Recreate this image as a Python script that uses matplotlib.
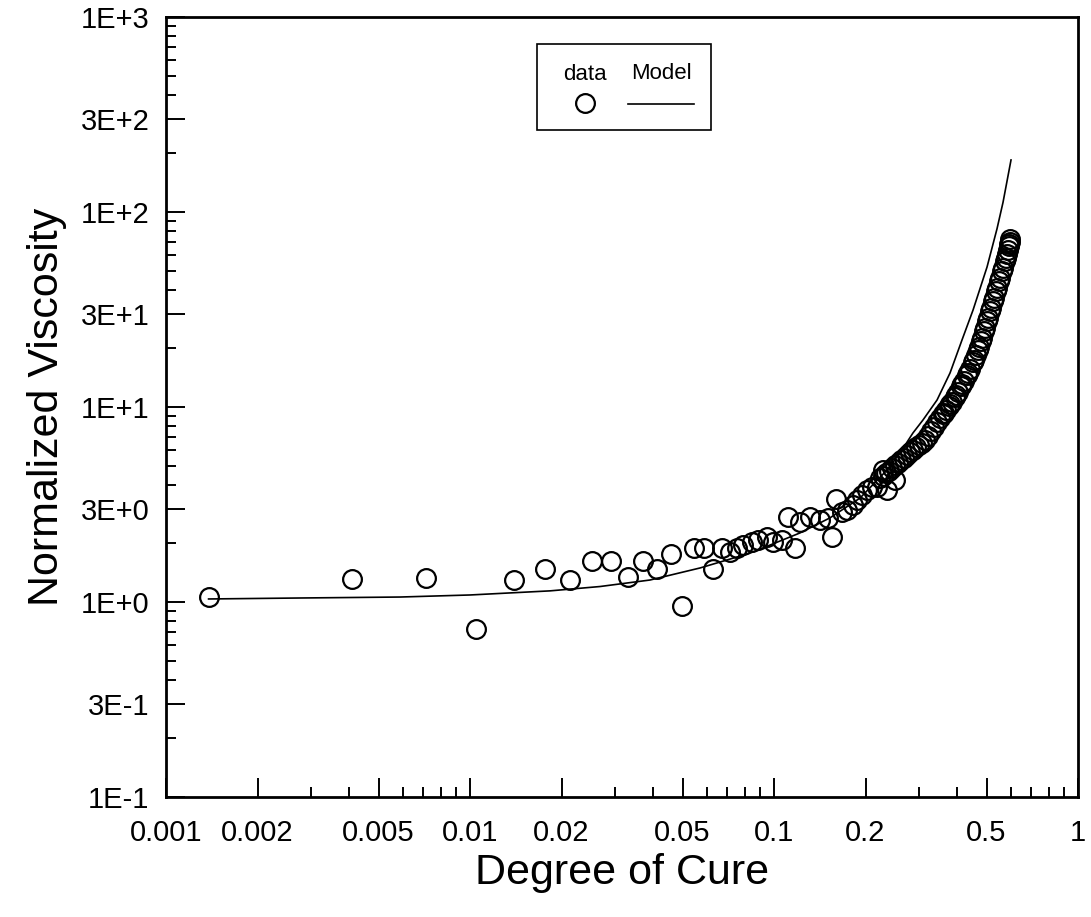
import numpy as np
import matplotlib
matplotlib.use('Agg')
import matplotlib.pyplot as plt
from matplotlib.ticker import FixedLocator, FixedFormatter, NullFormatter
from matplotlib.patches import Rectangle

plt.rcParams['font.family'] = ['Liberation Sans', 'DejaVu Sans']

# measured data (degree of cure, normalized viscosity)
cure_data = [0.00138, 0.00409, 0.00716, 0.01046, 0.01396, 0.01766, 0.0213, 0.0252,
             0.0291, 0.0331, 0.0371, 0.0412, 0.0458, 0.0498, 0.0546, 0.0589, 0.0630,
             0.0675, 0.0717, 0.0755, 0.0791, 0.0847, 0.0886, 0.0948, 0.0992, 0.1062,
             0.1112, 0.1173, 0.1218, 0.1314, 0.1417, 0.1505, 0.1552, 0.1600, 0.1674,
             0.1738, 0.1819, 0.1875, 0.1949, 0.2022, 0.2101, 0.2182, 0.2284, 0.2353,
             0.2500,
             0.2232, 0.2284, 0.2336, 0.2390, 0.2445, 0.2500, 0.2558, 0.2617, 0.2677,
             0.2738, 0.2801, 0.2865, 0.2931, 0.2999, 0.3068, 0.3139, 0.3211, 0.3285,
             0.3360, 0.3438, 0.3516, 0.3597, 0.3680, 0.3765, 0.3851, 0.3939, 0.4030,
             0.4122, 0.4217, 0.4314, 0.4413, 0.4515, 0.4619, 0.4724, 0.4833, 0.4943,
             0.5057, 0.5174, 0.5292, 0.5414, 0.5539, 0.5666, 0.5797, 0.5885, 0.5929,
             0.5974, 0.5974,
             0.3624, 0.3793, 0.3969, 0.4153, 0.4347, 0.4549, 0.4689, 0.4796, 0.4907,
             0.5020, 0.5134, 0.5253, 0.5374, 0.5497, 0.5623, 0.5752, 0.5841, 0.5929]
visc_data = [1.06, 1.31, 1.33, 0.727, 1.29, 1.48, 1.29, 1.62,
             1.62, 1.34, 1.62, 1.48, 1.76, 0.95, 1.89, 1.89, 1.48,
             1.89, 1.80, 1.89, 1.96, 2.03, 2.08, 2.15, 2.03, 2.08,
             2.73, 1.89, 2.57, 2.73, 2.63, 2.70, 2.15, 3.38, 2.89,
             2.96, 3.14, 3.34, 3.54, 3.75, 3.89, 3.89, 4.75, 3.75,
             4.22,
             4.32, 4.43, 4.59, 4.70, 4.87, 5.04, 5.16, 5.35, 5.48,
             5.67, 5.88, 6.02, 6.24, 6.39, 6.54, 6.77, 7.10, 7.53,
             7.90, 8.38, 8.78, 9.21, 9.65, 10.12, 10.61, 11.25, 11.94,
             12.82, 13.60, 14.60, 15.66, 17.01, 18.48, 20.30, 22.58, 25.43,
             28.60, 32.19, 36.23, 40.77, 45.86, 51.62, 58.08, 63.8, 66.9,
             70.2, 72.7,
             9.32, 10.36, 11.52, 13.12, 14.94, 17.42, 19.6, 21.8, 24.5,
             27.6, 31.1, 35.0, 39.3, 44.3, 49.8, 56.1, 60.9, 68.5]

# model curve
cure_model = [0.00138, 0.00276, 0.00589, 0.01, 0.01833, 0.02676, 0.0391, 0.0571,
              0.0834, 0.1218, 0.1528, 0.1918, 0.2353, 0.2597, 0.2865, 0.3091,
              0.3438, 0.3793, 0.4153, 0.4515, 0.5020, 0.5414, 0.5666, 0.6020]
visc_model = [1.036, 1.048, 1.060, 1.086, 1.14, 1.20, 1.296, 1.494,
              1.78, 2.26, 2.70, 3.41, 4.75, 5.81, 7.36, 8.58,
              10.86, 14.94, 22.06, 31.4, 52.2, 82.0, 112.0, 184.8]

x_major = [0.001, 0.002, 0.005, 0.01, 0.02, 0.05, 0.1, 0.2, 0.5, 1]
x_labels = ['0.001', '0.002', '0.005', '0.01', '0.02', '0.05', '0.1', '0.2', '0.5', '1']
y_major = [0.1, 0.3, 1, 3, 10, 30, 100, 300, 1000]
y_labels = ['1E-1', '3E-1', '1E+0', '3E+0', '1E+1', '3E+1', '1E+2', '3E+2', '1E+3']

fig = plt.figure(figsize=(10.91, 9.17), dpi=100)
ax = fig.add_axes([0.1522, 0.1309, 0.8359, 0.8506])

ax.plot(cure_model, visc_model, color='black', lw=1.2)
ax.plot(cure_data, visc_data, 'o', mfc='none', mec='black', ms=13.5, mew=1.6)

ax.set_xscale('log')
ax.set_yscale('log')
ax.set_xlim(0.001, 1)
ax.set_ylim(0.1, 1000)

ax.xaxis.set_major_locator(FixedLocator(x_major))
ax.xaxis.set_major_formatter(FixedFormatter(x_labels))
x_minor = [m * d for d in [0.001, 0.01, 0.1] for m in [3, 4, 6, 7, 8, 9]]
ax.xaxis.set_minor_locator(FixedLocator(x_minor))
ax.xaxis.set_minor_formatter(NullFormatter())

ax.yaxis.set_major_locator(FixedLocator(y_major))
ax.yaxis.set_major_formatter(FixedFormatter(y_labels))
y_minor = [m * d for d in [0.1, 1, 10, 100] for m in [2, 4, 5, 6, 7, 8, 9]]
ax.yaxis.set_minor_locator(FixedLocator(y_minor))
ax.yaxis.set_minor_formatter(NullFormatter())

ax.tick_params(which='both', direction='in', top=False, right=False, width=1.4, labelsize=21)
ax.tick_params(which='major', length=13.5)
ax.tick_params(which='minor', length=7.5)
ax.tick_params(axis='x', which='major', pad=16)
ax.tick_params(axis='y', which='major', pad=12)
for s in ax.spines.values():
    s.set_linewidth(2)

ax.set_xlabel('Degree of Cure', fontsize=31, labelpad=4)
ax.set_ylabel('Normalized Viscosity', fontsize=31, labelpad=10)

# hand-built legend: labels above the symbols
ax.add_patch(Rectangle((0.4068, 0.8551), 0.1908, 0.1103, transform=ax.transAxes,
                       fill=False, ec='black', lw=1.2, clip_on=False))
ax.text(0.4594, 0.9256, 'data', transform=ax.transAxes, ha='center', va='center', fontsize=16)
ax.text(0.5428, 0.9280, 'Model', transform=ax.transAxes, ha='center', va='center', fontsize=16)
ax.plot([0.4594], [0.8897], 'o', mfc='none', mec='black', ms=13.5, mew=1.6,
        transform=ax.transAxes, clip_on=False)
ax.plot([0.5066, 0.5789], [0.8885, 0.8885], color='black', lw=1.2,
        transform=ax.transAxes, clip_on=False)

fig.savefig('out.png', dpi=100)
